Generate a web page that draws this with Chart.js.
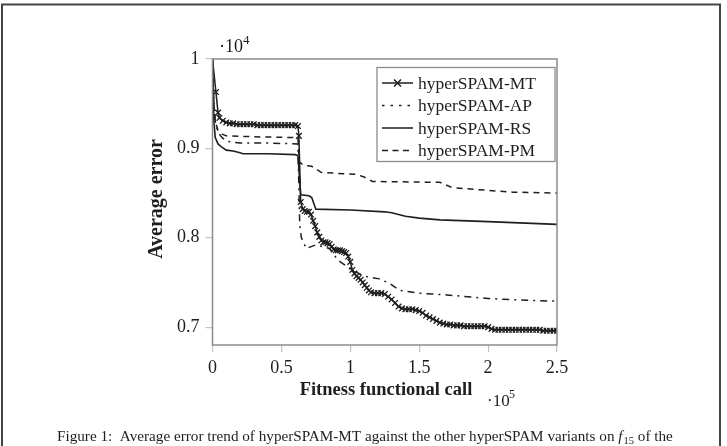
<!DOCTYPE html>
<html>
<head>
<meta charset="utf-8">
<script src="https://cdn.jsdelivr.net/npm/chart.js@4.4.0/dist/chart.umd.min.js"></script>
<style>
  html, body { margin: 0; padding: 0; background: #fff; }
  #wrap { width: 727px; height: 446px; position: relative; }
</style>
</head>
<body>
<div id="wrap"><canvas id="c" width="727" height="446"></canvas></div>
<script>
// ---- data (x in units of 1e5 calls, y in units of 1e4) ----
const seriesLabels = ["hyperSPAM-MT", "hyperSPAM-AP", "hyperSPAM-RS", "hyperSPAM-PM"];

const mtX = [0, 0.025, 0.04, 0.05, 0.075, 0.1, 0.125, 0.15, 0.175, 0.2, 0.225, 0.25, 0.275, 0.3, 0.325, 0.35, 0.375, 0.4, 0.425, 0.45, 0.475, 0.5, 0.525, 0.55, 0.575, 0.6, 0.62,
  0.627, 0.64, 0.655, 0.67, 0.685, 0.7, 0.715, 0.73, 0.745, 0.76, 0.775, 0.79, 0.805, 0.82, 0.835, 0.85, 0.865, 0.88, 0.895, 0.91, 0.925, 0.94, 0.955, 0.97, 0.985,
  1.0, 1.015, 1.03, 1.045, 1.06, 1.075, 1.09, 1.105, 1.12, 1.135, 1.15, 1.175, 1.2, 1.225, 1.25, 1.275, 1.3, 1.325, 1.35, 1.375, 1.4, 1.425, 1.45, 1.475,
  1.5, 1.525, 1.55, 1.575, 1.6, 1.625, 1.65, 1.675, 1.7, 1.725, 1.75, 1.775, 1.8, 1.825, 1.85, 1.875, 1.9, 1.925, 1.95, 1.975,
  2.0, 2.025, 2.05, 2.075, 2.1, 2.125, 2.15, 2.175, 2.2, 2.225, 2.25, 2.275, 2.3, 2.325, 2.35, 2.375, 2.4, 2.425, 2.45, 2.475, 2.5];
const mtY = [1.0, 0.963, 0.940, 0.934, 0.931, 0.929, 0.928, 0.928, 0.927, 0.927, 0.927, 0.927, 0.927, 0.927, 0.926, 0.926, 0.926, 0.926, 0.926, 0.926, 0.926, 0.926, 0.926, 0.926, 0.926, 0.926, 0.925,
  0.914, 0.840, 0.832, 0.830, 0.829, 0.829, 0.826, 0.819, 0.813, 0.806, 0.801, 0.797, 0.795, 0.795, 0.794, 0.793, 0.790, 0.787, 0.786, 0.786, 0.786, 0.785, 0.784, 0.783, 0.779,
  0.773, 0.764, 0.760, 0.757, 0.755, 0.753, 0.750, 0.747, 0.744, 0.741, 0.739, 0.738, 0.738, 0.738, 0.737, 0.734, 0.731, 0.727, 0.723, 0.721, 0.720, 0.720, 0.720, 0.719,
  0.718, 0.716, 0.713, 0.711, 0.709, 0.707, 0.705, 0.704, 0.703, 0.703, 0.702, 0.702, 0.702, 0.701, 0.701, 0.701, 0.701, 0.701, 0.701, 0.701,
  0.700, 0.698, 0.697, 0.697, 0.697, 0.697, 0.697, 0.697, 0.697, 0.697, 0.697, 0.697, 0.697, 0.697, 0.697, 0.697, 0.696, 0.696, 0.696, 0.696, 0.696];

const apX = [0, 0.01, 0.02, 0.04, 0.07, 0.1, 0.2, 0.4, 0.62, 0.633, 0.645, 0.68, 0.75, 0.85, 0.91, 1.0, 1.1, 1.21, 1.285, 1.36, 1.5, 1.7, 2.0, 2.3, 2.5];
const apY = [1.0, 0.95, 0.93, 0.918, 0.912, 0.908, 0.906, 0.906, 0.905, 0.814, 0.800, 0.788, 0.792, 0.788, 0.775, 0.765, 0.757, 0.754, 0.749, 0.741, 0.738, 0.736, 0.732, 0.730, 0.729];

const rsX = [0, 0.01, 0.02, 0.04, 0.07, 0.1, 0.15, 0.2, 0.22, 0.4, 0.6, 0.62, 0.63, 0.64, 0.7, 0.72, 0.75, 1.0, 1.25, 1.3, 1.4, 1.5, 1.65, 2.0, 2.5];
const rsY = [1.0, 0.93, 0.912, 0.905, 0.901, 0.898, 0.897, 0.895, 0.894, 0.894, 0.893, 0.892, 0.870, 0.848, 0.847, 0.845, 0.832, 0.831, 0.829, 0.828, 0.824, 0.822, 0.820, 0.818, 0.815];

const pmX = [0, 0.01, 0.02, 0.04, 0.07, 0.1, 0.3, 0.62, 0.63, 0.66, 0.72, 0.79, 1.04, 1.1, 1.16, 1.65, 1.74, 2.0, 2.18, 2.5];
const pmY = [1.0, 0.95, 0.93, 0.92, 0.916, 0.914, 0.913, 0.912, 0.885, 0.881, 0.880, 0.873, 0.871, 0.868, 0.863, 0.862, 0.856, 0.853, 0.851, 0.850];

const xTicks = [0, 0.5, 1, 1.5, 2, 2.5];
const xTickLabels = ["0", "0.5", "1", "1.5", "2", "2.5"];
const yTicks = [0.7, 0.8, 0.9, 1.0];
const yTickLabels = ["0.7", "0.8", "0.9", "1"];

const xTitle = "Fitness functional call";
const yTitle = "Average error";
const caption = ["Figure 1:  Average error trend of hyperSPAM-MT against the other hyperSPAM variants on ", "f", "15", " of the"];

// ---- build ----
const pts = (xs, ys) => xs.map((x, i) => ({ x: x, y: ys[i] }));
const SERIF = "'Liberation Serif', 'DejaVu Serif', serif";
const INK = "#1e1e1e";

const datasets = [
  { label: seriesLabels[0], data: pts(mtX, mtY), borderColor: INK, borderWidth: 1.5,
    pointStyle: 'crossRot', pointRadius: ctx => ctx.dataIndex === 0 ? 0 : 4, pointBorderWidth: 1.3,
    pointBorderColor: INK, borderDash: [] },
  { label: seriesLabels[1], data: pts(apX, apY), borderColor: INK, borderWidth: 1.5, pointRadius: 0,
    borderDash: [7, 5, 2, 5] },
  { label: seriesLabels[2], data: pts(rsX, rsY), borderColor: INK, borderWidth: 1.6, pointRadius: 0,
    borderDash: [] },
  { label: seriesLabels[3], data: pts(pmX, pmY), borderColor: INK, borderWidth: 1.5, pointRadius: 0,
    borderDash: [6, 5] }
];

const decor = {
  id: 'decor',
  beforeDraw(chart) {
    const c = chart.ctx;
    c.save();
    c.fillStyle = '#fff';
    c.fillRect(0, 0, chart.width, chart.height);
    // outer frame
    c.strokeStyle = '#444';
    c.lineWidth = 2;
    c.beginPath();
    c.moveTo(2, 460); c.lineTo(2, 4.5); c.lineTo(720, 4.5); c.lineTo(720, 460);
    c.stroke();
    c.restore();
  },
  afterDraw(chart) {
    const c = chart.ctx;
    const a = chart.chartArea;
    c.save();
    // plot box
    c.strokeStyle = '#8c8c8c';
    c.lineWidth = 1.5;
    c.strokeRect(a.left, a.top, a.right - a.left, a.bottom - a.top);

    // exponent labels
    c.fillStyle = INK;
    c.textBaseline = 'alphabetic';
    c.textAlign = 'left';
    c.font = "18px " + SERIF;
    c.fillText("\u00b710", 219, 52);
    c.font = "13px " + SERIF;
    c.fillText("4", 243, 44);
    c.font = "17px " + SERIF;
    c.fillText("\u00b710", 487, 406);
    c.font = "12px " + SERIF;
    c.fillText("5", 509, 398);

    // axis titles
    c.font = "bold 18.5px " + SERIF;
    c.textAlign = 'center';
    c.fillText(xTitle, 386, 395);
    c.save();
    c.translate(162, 199);
    c.rotate(-Math.PI / 2);
    c.font = "bold 20px " + SERIF;
    c.fillText(yTitle, 0, 0);
    c.restore();

    // caption
    c.textAlign = 'left';
    c.font = "15.2px " + SERIF;
    let x = 57;
    const yCap = 441;
    c.fillText(caption[0], x, yCap);
    x += c.measureText(caption[0]).width;
    c.font = "italic 15.2px " + SERIF;
    c.fillText(caption[1], x, yCap);
    x += c.measureText(caption[1]).width + 1;
    c.font = "10.5px " + SERIF;
    c.fillText(caption[2], x, yCap + 3);
    x += c.measureText(caption[2]).width;
    c.font = "15.2px " + SERIF;
    c.fillText(caption[3], x, yCap);

    // legend
    const lx = 377, ly = 67.5, lw = 178, lh = 94;
    c.fillStyle = '#fff';
    c.fillRect(lx, ly, lw, lh);
    c.strokeStyle = '#8c8c8c';
    c.lineWidth = 1.3;
    c.strokeRect(lx, ly, lw, lh);
    c.font = "17.5px " + SERIF;
    c.textBaseline = 'middle';
    chart.data.datasets.forEach((ds, i) => {
      const yy = 83 + i * 22.5;
      c.strokeStyle = INK;
      c.lineWidth = 1.5;
      c.setLineDash(ds.borderDash && ds.borderDash.length ? (i === 1 ? [2.5, 6] : [6, 4.5]) : []);
      c.beginPath();
      c.moveTo(382, yy); c.lineTo(413, yy);
      c.stroke();
      c.setLineDash([]);
      if (i === 0) {
        c.beginPath();
        c.moveTo(394, yy - 3.5); c.lineTo(401, yy + 3.5);
        c.moveTo(401, yy - 3.5); c.lineTo(394, yy + 3.5);
        c.stroke();
      }
      c.fillStyle = INK;
      c.textAlign = 'left';
      c.fillText(ds.label, 418, yy + 1);
    });
    c.restore();
  }
};

new Chart(document.getElementById('c'), {
  type: 'line',
  data: { datasets: datasets },
  plugins: [decor],
  options: {
    responsive: false,
    animation: false,
    devicePixelRatio: 1,
    layout: { padding: { left: 0, top: 59, right: 170, bottom: 0 } },
    plugins: { legend: { display: false }, tooltip: { enabled: false }, title: { display: false } },
    elements: { line: { tension: 0 } },
    scales: {
      x: {
        type: 'linear', min: 0, max: 2.5,
        afterBuildTicks: s => { s.ticks = xTicks.map(v => ({ value: v })); },
        afterFit: s => { s.height = 101; },
        ticks: {
          callback: (v) => xTickLabels[xTicks.indexOf(v)] ?? '',
          font: { family: SERIF, size: 18 }, color: INK, padding: 5, maxRotation: 0
        },
        grid: { drawOnChartArea: false, drawTicks: true, tickLength: 7, color: '#c4c4c4', lineWidth: 1.2 },
        border: { display: false }
      },
      y: {
        type: 'linear', min: 0.68, max: 1.0,
        afterBuildTicks: s => { s.ticks = yTicks.map(v => ({ value: v })); },
        afterFit: s => { s.width = 212.5; },
        ticks: {
          callback: (v) => { const k = yTicks.findIndex(t => Math.abs(t - v) < 1e-9); return k >= 0 ? yTickLabels[k] : ''; },
          font: { family: SERIF, size: 18 }, color: INK, padding: 6
        },
        grid: { drawOnChartArea: false, drawTicks: true, tickLength: 7, color: '#c4c4c4', lineWidth: 1.2 },
        border: { display: false }
      }
    }
  }
});
</script>
</body>
</html>
